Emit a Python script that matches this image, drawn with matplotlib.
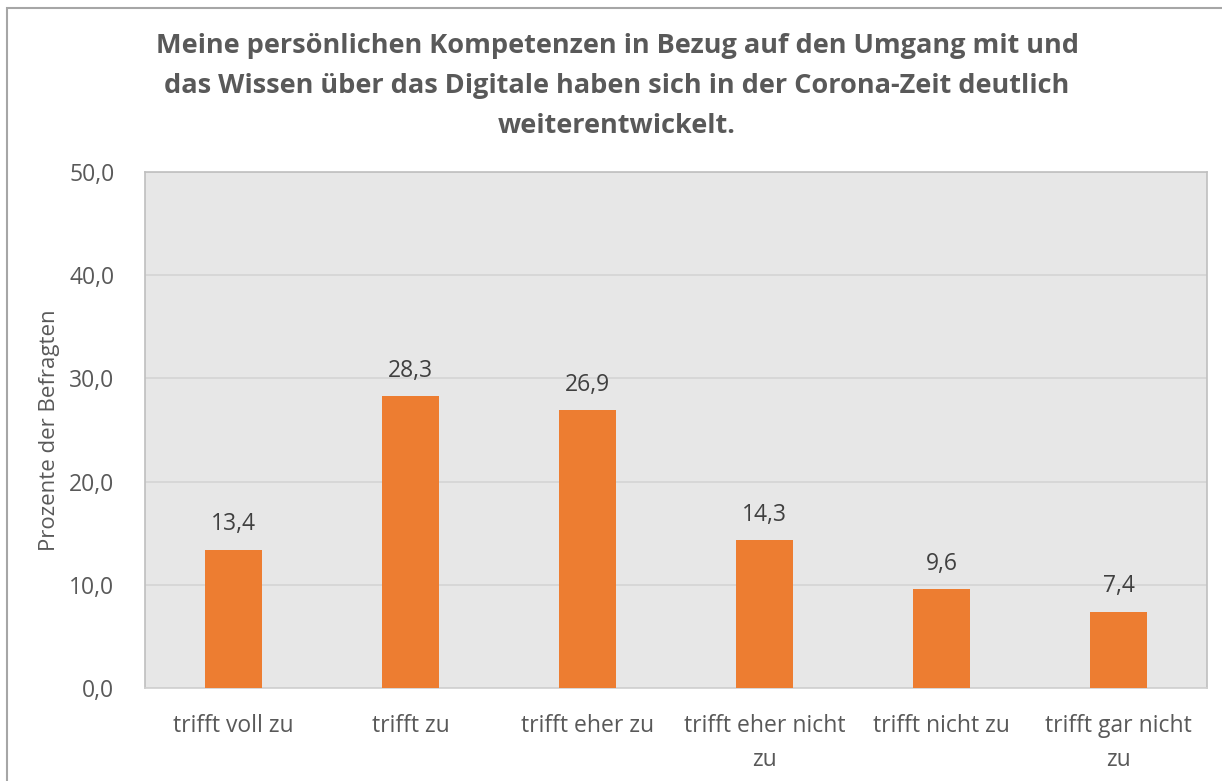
import matplotlib.pyplot as plt
from matplotlib.patches import Rectangle
import numpy as np

plt.rcParams['font.family'] = ['Open Sans', 'DejaVu Sans']

categories = ["trifft voll zu", "trifft zu", "trifft eher zu",
              "trifft eher nicht\nzu", "trifft nicht zu", "trifft gar nicht\nzu"]
values = [13.4, 28.3, 26.9, 14.3, 9.6, 7.4]
yticks = [0, 10, 20, 30, 40, 50]

title = ("Meine persönlichen Kompetenzen in Bezug auf den Umgang mit und\n"
         "das Wissen über das Digitale haben sich in der Corona-Zeit deutlich\n"
         "weiterentwickelt.")

fig = plt.figure(figsize=(12.22, 7.81), dpi=100)
# outer chart frame (cut off at right and bottom like the screenshot)
fig.patches.append(Rectangle((7 / 1222, -0.05), 1.2, 1 - 8 / 781 + 0.05,
                             transform=fig.transFigure, fill=False,
                             edgecolor="#A6A6A6", linewidth=1.5))

ax = fig.add_axes([145 / 1222, 1 - 688 / 781, (1207 - 145) / 1222, (688 - 172) / 781])
ax.set_facecolor("#E7E7E7")
x = np.arange(len(categories))
ax.bar(x, values, width=0.32, color="#ED7D31", zorder=3)
for xi, v in zip(x, values):
    ax.text(xi, v + 1.3, f"{v:.1f}".replace(".", ","), ha="center", va="bottom",
            fontsize=16.5, color="#404040")

ax.set_xlim(-0.5, len(categories) - 0.5)
ax.set_ylim(0, 50)
ax.set_yticks(yticks)
ax.set_yticklabels([f"{t:.1f}".replace(".", ",") for t in yticks], fontsize=16.5, color="#595959")
ax.set_xticks(x)
ax.set_xticklabels(categories, fontsize=16.5, color="#595959", linespacing=1.55, va="top")
ax.tick_params(length=0, axis="y", pad=22)
ax.tick_params(length=0, axis="x", pad=19)
ax.yaxis.grid(True, color="#D4D4D4", linewidth=1.2, zorder=0)
for s in ax.spines.values():
    s.set_color("#BFBFBF")
    s.set_linewidth(1.2)
ax.spines["bottom"].set_color("#D0D0D0")
ax.set_axisbelow(True)

ax.set_ylabel("Prozente der Befragten", fontsize=16, color="#595959")
ax.yaxis.set_label_coords(-0.08, 0.5)

fig.text(0.5 + 0.005, 1 - 86 / 781, title, ha="center", va="center", fontsize=19.5,
         fontweight="bold", color="#595959", linespacing=1.68)

fig.savefig("out.png", dpi=100)
